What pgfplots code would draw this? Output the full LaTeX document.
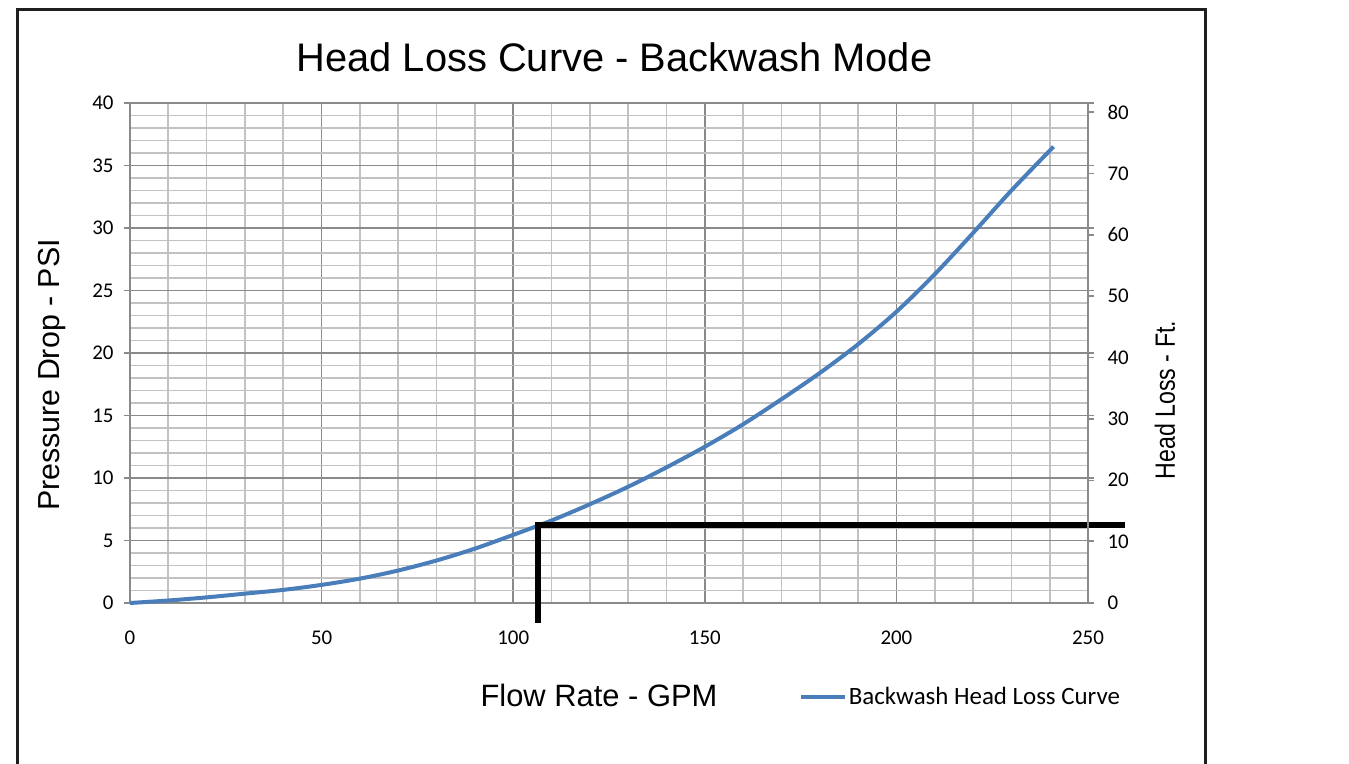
\documentclass[border=0pt]{standalone}
\usepackage{pgfplots}
\pgfplotsset{compat=1.18}
\usepackage{graphicx}
\usepackage{fontspec}
\setmainfont{Carlito}
\newfontfamily\arialfont{Liberation Sans}
\definecolor{gridmajor}{HTML}{8A8A8A}
\definecolor{gridminor}{HTML}{C2C2C2}
\definecolor{curveblue}{HTML}{4A7EBB}
\begin{document}
\begin{tikzpicture}[x=1bp,y=1bp]
\path[use as bounding box] (-130,-160) rectangle (1219,603);
\draw[line width=3bp, color=black!88] (-112,593) rectangle (1075,-175);
\begin{axis}[
  at={(0,0)}, anchor=south west,
  scale only axis, width=958bp, height=500bp,
  xmin=0, xmax=250, ymin=0, ymax=40,
  xtick={0,50,...,250}, ytick={0,5,...,40},
  minor x tick num=4, minor y tick num=4,
  grid=both,
  major grid style={draw=gridmajor, line width=1.7bp},
  minor grid style={draw=gridminor, line width=1.7bp},
  axis line style={draw=gridmajor, line width=1.7bp},
  tick align=outside,
  major tick length=6bp, minor tick length=0bp,
  xtick style={draw=none},
  ytick style={draw=gridmajor, line width=1.5bp},
  tick label style={font=\fontsize{21}{21}\selectfont},
  /pgf/number format/assume math mode=true,
  yticklabel style={xshift=-7bp},
  xticklabel style={yshift=-18bp},
  clip=false,
  legend style={at={(0.6985,-0.188)}, anchor=west, draw=none, fill=none, inner sep=0pt,
    font=\fontsize{25}{25}\selectfont, nodes={inner sep=1.5bp}},
  legend image code/.code={\draw[#1, line width=4bp] (0bp,0bp) -- (44bp,0bp);},
]
\addplot[curveblue, line width=4bp, smooth] coordinates {
(0,0) (10,0.2) (20,0.45) (30,0.75) (40,1.05) (50,1.45) (60,1.95) (70,2.6) (80,3.4)
(90,4.35) (100,5.45) (110,6.6) (120,7.9) (130,9.3) (140,10.85) (150,12.5) (160,14.3)
(170,16.3) (180,18.4) (190,20.7) (200,23.3) (210,26.3) (220,29.6) (230,33.0) (241,36.5)
};
\addlegendentry{Backwash Head Loss Curve}
\addplot[black, line width=6bp, forget plot] coordinates {(259.7,6.24) (106.5,6.24) (106.5,-1.6)};
\end{axis}
\begin{axis}[
  at={(0,0)}, anchor=south west,
  scale only axis, width=958bp, height=500bp,
  xmin=0, xmax=250, ymin=0, ymax=81.47,
  axis x line=none, axis y line*=right,
  ytick={0,10,...,80},
  axis line style={draw=gridmajor, line width=1.7bp},
  tick align=outside, major tick length=6bp, minor tick length=0bp,
  ytick style={draw=gridmajor, line width=1.5bp},
  tick label style={font=\fontsize{21}{21}\selectfont},
  /pgf/number format/assume math mode=true,
  yticklabel style={xshift=10bp},
]
\addplot[draw=none] coordinates {(0,0)};
\end{axis}
\node[font=\arialfont\fontsize{40}{40}\selectfont] at (484.5,546) {Head Loss Curve - Backwash Mode};
\node[font=\arialfont\fontsize{30.5}{30.5}\selectfont, rotate=90] at (-78,228) {Pressure Drop - PSI};
\node[font=\arialfont\fontsize{28}{28}\selectfont, rotate=90] at (1035,203) {\scalebox{0.83}[1]{Head Loss - Ft.}};
\node[font=\arialfont\fontsize{31}{31}\selectfont] at (469,-92) {Flow Rate - GPM};
\end{tikzpicture}
\end{document}
